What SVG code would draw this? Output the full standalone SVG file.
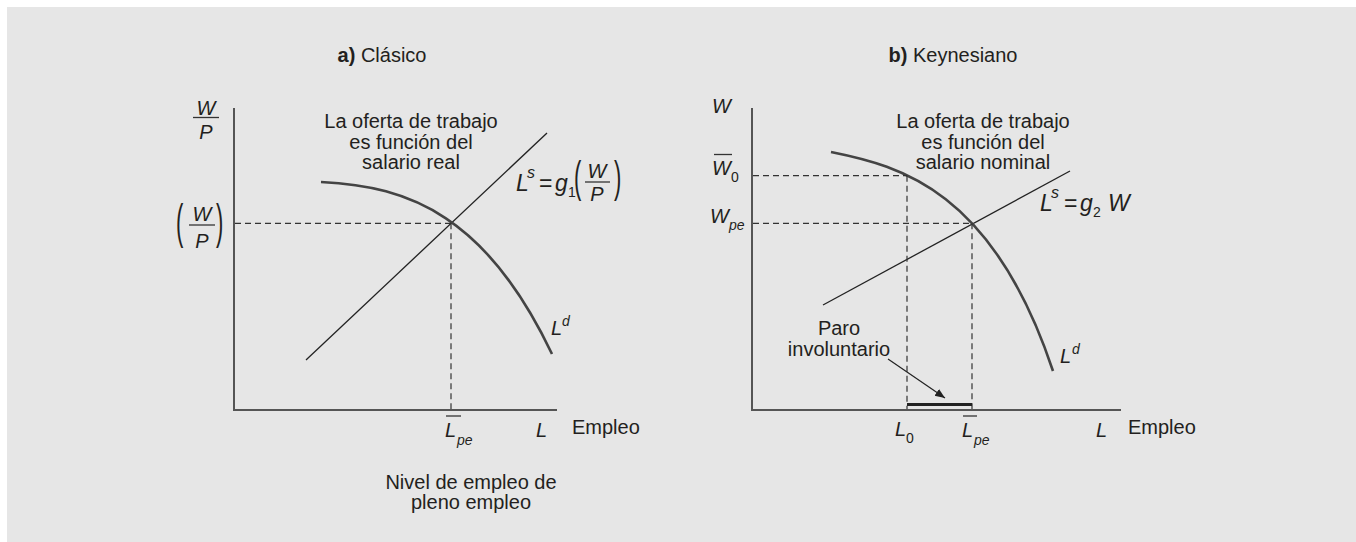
<svg xmlns="http://www.w3.org/2000/svg" width="1356" height="542" viewBox="0 0 1356 542">
<style>
text{font-family:"Liberation Sans",Arial,sans-serif;fill:#231f20;font-size:20px}
.c{text-anchor:middle}
.i{font-style:italic}
.sub{font-size:14px}
.sp{font-size:16px;font-style:italic}
.m{font-size:23px;font-style:italic}
.eq{font-size:23px}
.ax{stroke:#555;stroke-width:2;fill:none}
.dem{stroke:#444;stroke-width:2.6;fill:none}
.sup{stroke:#222;stroke-width:1.3;fill:none}
.dash{stroke:#333;stroke-width:1.2;stroke-dasharray:6 4;fill:none}
.bar{stroke:#333;stroke-width:1.3}
</style>
<defs>
<marker id="ah" viewBox="0 0 10 10" refX="10" refY="5" markerWidth="10" markerHeight="10" markerUnits="userSpaceOnUse" orient="auto">
<path d="M0,1 L10,5 L0,9 Z" fill="#222"/>
</marker>
</defs>
<rect x="0" y="0" width="1356" height="542" fill="#fff"/>
<rect x="7" y="7" width="1349" height="535" fill="#e6e6e6"/>

<g id="panel-a">
<g id="title-a"><text x="382" y="62" class="c"><tspan font-weight="bold">a)</tspan> Clásico</text></g>
<g id="axes-a">
<path class="ax" d="M234,108 V410 H557"/>
</g>
<g id="ylabel-a">
<text x="206" y="115" class="c i">W</text>
<line class="bar" x1="193" y1="117.5" x2="219" y2="117.5"/>
<text x="206" y="139" class="c i">P</text>
</g>
<g id="eq-label-a">
<text transform="translate(176,238) scale(1,2.2)" style="font-size:22px">(</text>
<text x="202" y="221" class="c i">W</text>
<line class="bar" x1="189" y1="225" x2="215" y2="225"/>
<text x="202" y="248" class="c i">P</text>
<text transform="translate(216,238) scale(1,2.2)" style="font-size:22px">)</text>
</g>
<g id="note-a">
<text x="411" y="128" class="c">La oferta de trabajo</text>
<text x="411" y="149" class="c">es función del</text>
<text x="411" y="169" class="c">salario real</text>
</g>
<g id="supply-a">
<line class="sup" x1="306" y1="360" x2="547" y2="133"/>
<text x="516" y="191" class="m">L</text>
<text x="527" y="178" class="sp">s</text>
<text x="539" y="191" class="eq">=</text>
<text x="555" y="191" class="m">g</text>
<text x="568" y="197" class="sub">1</text>
<text transform="translate(574,192) scale(1,2.05)" style="font-size:22px">(</text>
<text x="597" y="178" class="c i">W</text>
<line class="bar" x1="585" y1="182" x2="610" y2="182"/>
<text x="597" y="201" class="c i">P</text>
<text transform="translate(614,192) scale(1,2.05)" style="font-size:22px">)</text>
</g>
<g id="demand-a">
<path class="dem" d="M321,182 C411,186 487,217.5 552,354"/>
<text x="551" y="335" class="i">L</text>
<text x="562" y="326" class="sub i">d</text>
</g>
<g id="xlabels-a">
<line class="bar" x1="446" y1="416" x2="461" y2="416"/>
<text x="445" y="437" class="i">L</text>
<text x="457" y="445" class="sub i">pe</text>
<text x="536" y="437" class="i">L</text>
<text x="572" y="434">Empleo</text>
<text x="471" y="489" class="c">Nivel de empleo de</text>
<text x="471" y="509" class="c">pleno empleo</text>
</g>
</g>

<g id="panel-b">
<g id="title-b"><text x="953" y="62" class="c"><tspan font-weight="bold">b)</tspan> Keynesiano</text></g>
<g id="axes-b">
<path class="ax" d="M752,108 V410 H1121"/>
</g>
<g id="ylabels-b">
<text x="712" y="113" class="i">W</text>
<line class="bar" x1="714" y1="154.5" x2="732" y2="154.5"/>
<text x="712" y="175" class="i">W</text>
<text x="731" y="182" class="sub">0</text>
<text x="710" y="223" class="i">W</text>
<text x="729" y="230" class="sub i">pe</text>
</g>
<g id="note-b">
<text x="983" y="128" class="c">La oferta de trabajo</text>
<text x="983" y="149" class="c">es función del</text>
<text x="983" y="169" class="c">salario nominal</text>
</g>
<g id="supply-b">
<line class="sup" x1="823" y1="305" x2="1070" y2="171"/>
<text x="1040" y="211" class="m">L</text>
<text x="1051" y="198" class="sp">s</text>
<text x="1064" y="211" class="eq">=</text>
<text x="1080" y="211" class="m">g</text>
<text x="1093" y="217" class="sub">2</text>
<text x="1108" y="211" class="m">W</text>
</g>
<g id="demand-b">
<path class="dem" d="M831,152 C901,166 993,191 1053,371"/>
<text x="1060" y="363" class="i">L</text>
<text x="1072" y="354" class="sub i">d</text>
</g>
<g id="paro-b">
<text x="839" y="335" class="c">Paro</text>
<text x="839" y="356" class="c">involuntario</text>
</g>
<g id="xlabels-b">
<text x="895" y="436" class="i">L</text>
<text x="906" y="443" class="sub">0</text>
<line class="bar" x1="963" y1="416" x2="977" y2="416"/>
<text x="962" y="437" class="i">L</text>
<text x="974" y="445" class="sub i">pe</text>
<text x="1096" y="437" class="i">L</text>
<text x="1128" y="434">Empleo</text>
</g>
</g>

<g id="connectors">
<line class="dash" x1="235" y1="223.3" x2="451" y2="223.3"/>
<line class="dash" x1="451" y1="223.3" x2="451" y2="409"/>
<line class="dash" x1="753" y1="175.7" x2="907" y2="175.7"/>
<line class="dash" x1="907" y1="175.7" x2="907" y2="409"/>
<line class="dash" x1="753" y1="223.3" x2="972" y2="223.3"/>
<line class="dash" x1="972" y1="223.3" x2="972" y2="409"/>
<line x1="907" y1="404.5" x2="972" y2="404.5" stroke="#222" stroke-width="3"/>
<line x1="888" y1="359" x2="945" y2="398" stroke="#222" stroke-width="1.2" marker-end="url(#ah)"/>
</g>
</svg>
